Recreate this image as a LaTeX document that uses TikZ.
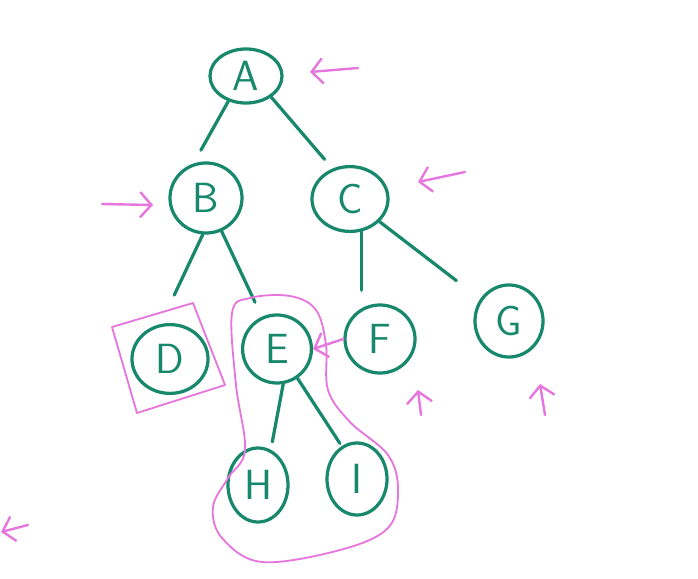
\documentclass[tikz,border=0pt]{standalone}
\usepackage{tikz}
\usetikzlibrary{arrows.meta, shapes.geometric}

\definecolor{treegreen}{RGB}{24,136,108}
\definecolor{penpink}{RGB}{230,118,222}

\tikzset{
  vertex/.style = {ellipse, draw=treegreen, line width=2.3pt, text=treegreen,
                   font=\sffamily\fontsize{30}{30}\selectfont, inner sep=0pt},
  branch/.style = {draw=treegreen, line width=2.3pt, line cap=round},
  penarrow/.style = {draw=penpink, line width=1.7pt, line cap=round,
                     -{Straight Barb[length=8pt, width=18pt]}},
  penloop/.style = {draw=penpink, line width=1.3pt, line join=round}
}

\begin{document}
\begin{tikzpicture} [x=0.025cm, y=-0.025cm]
    \useasboundingbox [fill=white] (0,0) rectangle (698,579);

    % tree
    \node (A) [vertex, minimum width=1.8cm, minimum height=1.35cm] at (246,76) {A};
    \node (B) [vertex, minimum width=1.8cm, minimum height=1.75cm] at (206,198) {B};
    \node (C) [vertex, minimum width=1.9cm, minimum height=1.62cm] at (350,199) {C};
    \node (D) [vertex, minimum width=1.9cm, minimum height=1.72cm] at (170,359) {D};
    \node (E) [vertex, minimum width=1.72cm, minimum height=1.7cm] at (277,349) {E};
    \node (F) [vertex, minimum width=1.75cm, minimum height=1.7cm] at (380,339) {F};
    \node (G) [vertex, minimum width=1.7cm, minimum height=1.8cm] at (509,321) {G};
    \node (H) [vertex, minimum width=1.5cm, minimum height=1.85cm] at (258,485) {H};
    \node (I) [vertex, minimum width=1.5cm, minimum height=1.8cm] at (357,479) {I};

    \path [branch] (A.235) edge [shorten >=0.38cm] (B.110);
    \path [branch] (A.-40) edge [shorten >=0.3cm] (C.120);
    \path [branch] (B.-95) edge [shorten >=0.8cm] (D.105);
    \path [branch] (B) edge [shorten >=0.4cm] (E);
    \path [branch] (C.-70) edge [shorten >=0.33cm] (C.-70 |- F.north);
    \path [branch] (C) edge [shorten >=0.75cm] (G);
    \path [branch] (E.-80) edge [shorten >=0.2cm] (H.70);
    \path [branch] (E.-55) edge [shorten >=0.08cm] (I.115);

    % pen marks
    \draw [penarrow] (F.west) -- (E.east);
    \draw [penarrow] (358,68) -- (310,72);
    \draw [penarrow] (465,172) -- (418,182);
    \draw [penarrow] (102,204) -- (153,205);
    \draw [penarrow] (421,415) -- (418,390);
    \draw [penarrow] (545,415) -- (540,384);
    \draw [penarrow] (28,525) -- (1,532);

    \draw [penloop] (112,327) -- (193,303) -- (225,385) -- (137,413) -- cycle;
    \draw [penloop] plot [smooth cycle, tension=0.6] coordinates {
      (232,313) (250,298) (290,296) (316,310) (326,345) (328,390)
      (350,422) (388,455) (398,490) (388,528) (340,550) (262,562)
      (222,538) (213,507) (228,478) (245,450) (236,385)};
\end{tikzpicture}
\end{document}
